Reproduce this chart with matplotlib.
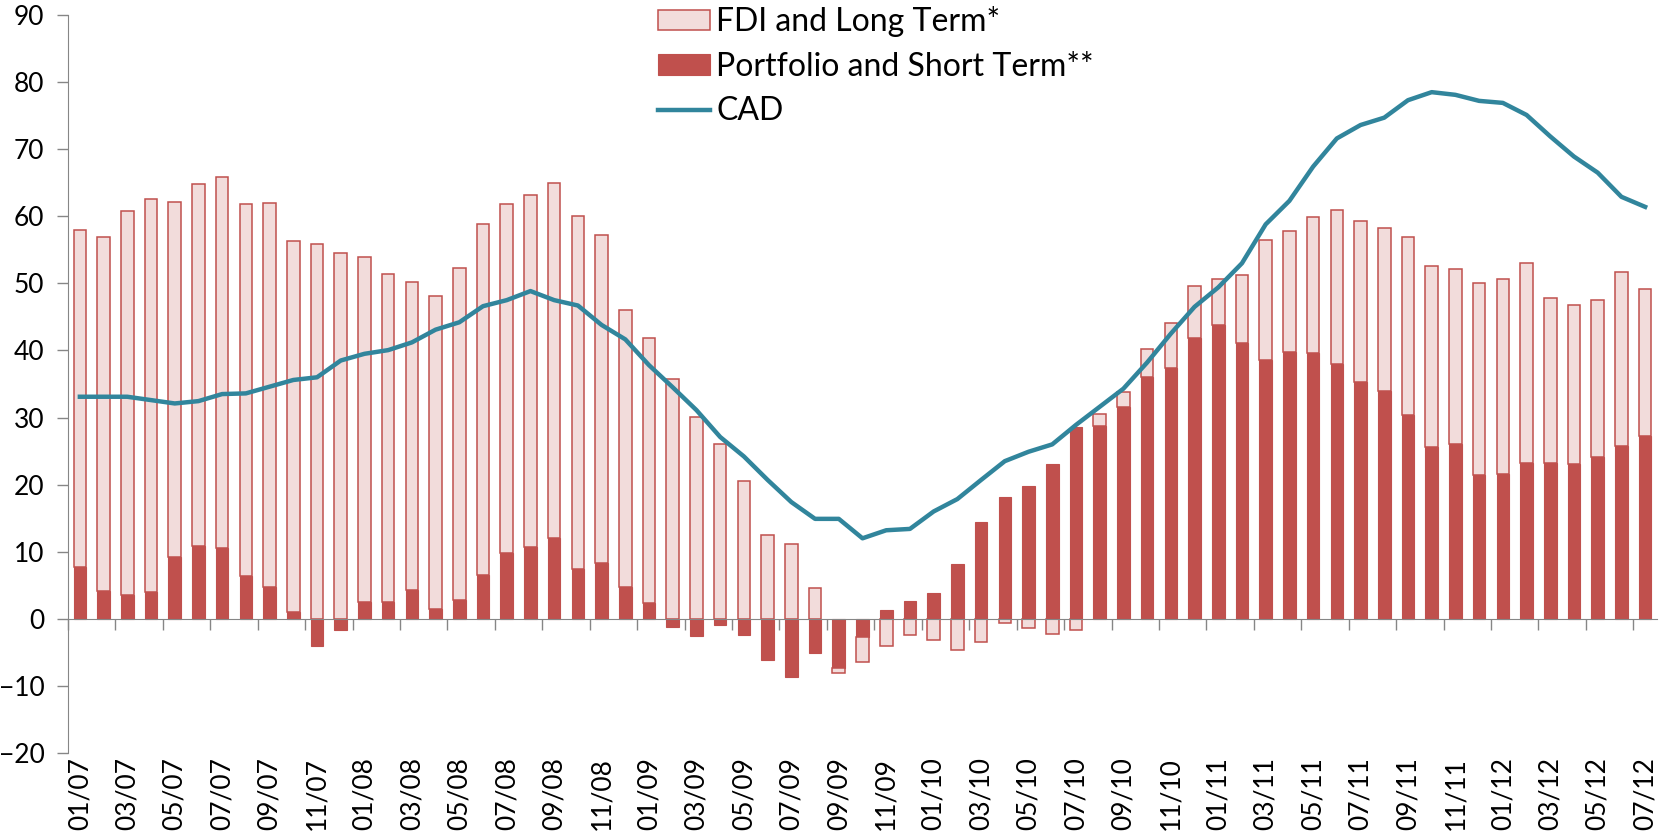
import numpy as np
import matplotlib
matplotlib.use("Agg")
import matplotlib.pyplot as plt

plt.rcParams["font.family"] = ["Lato", "DejaVu Sans"]

months = ["%02d/%02d" % (m, y) for y in range(7, 13) for m in range(1, 13)][:67]

portfolio = [7.7, 4.2, 3.5, 4.0, 9.2, 10.8, 10.5, 6.4, 4.7, 0.95,
             -4.1, -1.6, 2.5, 2.5, 4.3, 1.45, 2.8, 6.6, 9.8, 10.7,
             12.1, 7.4, 8.35, 4.8, 2.4, -1.2, -2.6, -0.95, -2.4, -6.2,
             -8.7, -5.1, -7.3, -2.7, 1.25, 2.7, 3.8, 8.2, 14.4, 18.1,
             19.8, 23.1, 28.6, 28.8, 31.6, 36.0, 37.4, 41.9, 43.8, 41.05,
             38.6, 39.7, 39.6, 38.0, 35.3, 33.9, 30.4, 25.6, 26.1, 21.4,
             21.6, 23.2, 23.2, 23.1, 24.1, 25.7, 27.3]

fdi = [50.2, 52.7, 57.3, 58.6, 52.9, 54.0, 55.4, 55.4, 57.3, 55.35,
       55.8, 54.5, 51.4, 48.9, 45.9, 46.65, 49.5, 52.2, 52.0, 52.4,
       52.9, 52.6, 48.85, 41.2, 39.5, 35.8, 30.1, 26.0, 20.5, 12.5,
       11.1, 4.6, -0.85, -3.8, -4.1, -2.4, -3.1, -4.6, -3.5, -0.6,
       -1.4, -2.3, -1.7, 1.7, 2.15, 4.2, 6.7, 7.7, 6.9, 10.15,
       17.9, 18.1, 20.3, 22.9, 24.0, 24.3, 26.5, 27.0, 26.0, 28.6,
       29.0, 29.8, 24.6, 23.7, 23.4, 26.0, 21.9]

cad = [33.1, 33.1, 33.1, 32.6, 32.1, 32.45, 33.5, 33.6, 34.6, 35.6,
       36.0, 38.5, 39.5, 40.05, 41.2, 43.1, 44.2, 46.6, 47.5, 48.85,
       47.5, 46.7, 43.8, 41.65, 37.8, 34.5, 31.1, 27.1, 24.2, 20.7,
       17.4, 14.9, 14.9, 12.0, 13.2, 13.4, 16.0, 17.85, 20.7, 23.5,
       24.9, 26.0, 28.9, 31.6, 34.3, 38.2, 42.5, 46.5, 49.4, 53.0,
       58.8, 62.3, 67.4, 71.6, 73.6, 74.7, 77.3, 78.5, 78.1, 77.2,
       76.9, 75.1, 71.9, 68.9, 66.5, 62.9, 61.4]

x = np.arange(len(months))
p = np.array(portfolio)
f = np.array(fdi)
# excel style stacking: positives stack up, negatives stack down
fbottom = np.where(np.sign(p) == np.sign(f), p, 0)

fig = plt.figure(figsize=(16.69, 8.39), dpi=100)
ax = fig.add_axes([68 / 1669, 1 - 753 / 839, (1657 - 68) / 1669, (753 - 15) / 839])

w = 0.53
b1 = ax.bar(x, p, w, color="#C0504D", edgecolor="#C0504D", linewidth=0.8, zorder=2,
            label="Portfolio and Short Term**")
b2 = ax.bar(x, f, w, bottom=fbottom, color="#F2DCDB", edgecolor="#C0504D", linewidth=1.1,
            zorder=2, label="FDI and Long Term*")
l1, = ax.plot(x, cad, color="#31859C", linewidth=3.2, zorder=3, label="CAD")

ax.set_xlim(-0.5, len(months) - 0.5)
ax.set_ylim(-20, 90)
ax.set_yticks(np.arange(-20, 91, 10))

gray = "#868686"
for s in ["top", "right"]:
    ax.spines[s].set_visible(False)
ax.spines["left"].set_color(gray)
ax.spines["bottom"].set_position(("data", 0))
ax.spines["bottom"].set_color(gray)
ax.set_xticks(np.arange(-0.5, len(months) - 1, 2))
ax.set_xticklabels([])
ax.tick_params(axis="x", direction="out", length=8, color=gray, width=1)
ax.tick_params(axis="y", direction="out", length=8, color=gray, width=1,
               labelsize=19, pad=9)

sec = ax.secondary_xaxis("bottom")
sec.spines["bottom"].set_visible(False)
sec.set_xticks(x[::2])
sec.set_xticklabels(months[::2], rotation=90)
sec.tick_params(length=0, labelsize=19, pad=3)

ax.legend([b2, b1, l1], ["FDI and Long Term*", "Portfolio and Short Term**", "CAD"],
          loc="upper left", bbox_to_anchor=(658 / 1669, 1 - 6 / 839),
          bbox_transform=fig.transFigure, frameon=False, fontsize=23,
          borderpad=0, borderaxespad=0, handlelength=1.63, handleheight=0.6,
          handletextpad=0.2, labelspacing=0.46)

fig.savefig("out.png", dpi=100)
